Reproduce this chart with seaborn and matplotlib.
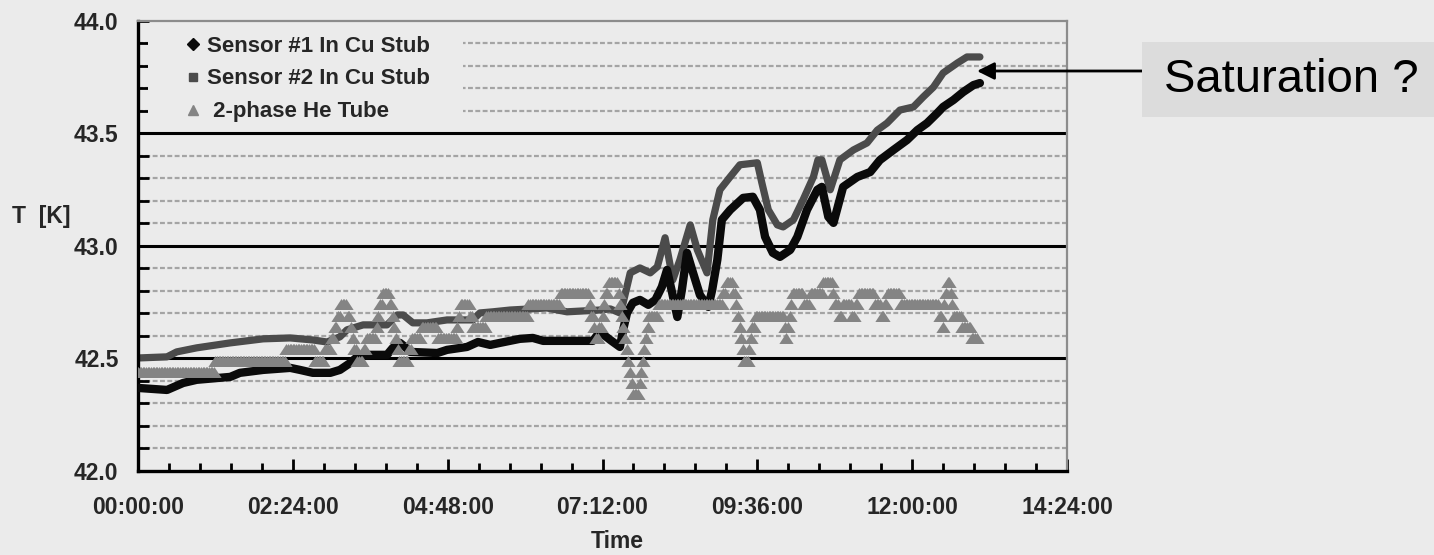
import numpy as np
import matplotlib
matplotlib.use("Agg")
import matplotlib.pyplot as plt
from matplotlib.ticker import MultipleLocator, FixedLocator, FixedFormatter
from matplotlib.lines import Line2D
from matplotlib.patches import Rectangle
import seaborn as sns

# ---- Sensor #1 in Cu stub (elapsed hours, temperature in K) ----
S1_HOURS = [0.00, 0.45, 0.70, 0.91, 1.43, 1.58, 1.94, 2.36, 2.51, 2.71, 2.98, 3.13,
            3.29, 3.40, 3.60, 3.86, 3.95, 4.06, 4.14, 4.22, 4.64, 4.79, 5.10, 5.27,
            5.46, 5.61, 5.92, 6.12, 6.28, 7.05, 7.16, 7.32, 7.47, 7.52, 7.58, 7.67,
            7.78, 7.91, 8.02, 8.12, 8.20, 8.28, 8.36, 8.43, 8.51, 8.59, 8.71, 8.84,
            8.90, 8.98, 9.05, 9.18, 9.38, 9.53, 9.64, 9.72, 9.84, 9.95, 10.11, 10.22,
            10.37, 10.53, 10.60, 10.70, 10.78, 10.93, 11.15, 11.35, 11.50, 11.71, 11.92,
            12.08, 12.23, 12.39, 12.48, 12.64, 12.79, 12.95, 13.05]
S1_TEMP = [42.369, 42.360, 42.391, 42.405, 42.418, 42.436, 42.449, 42.458, 42.449, 42.436,
           42.436, 42.449, 42.480, 42.507, 42.516, 42.516, 42.547, 42.569, 42.551, 42.529,
           42.524, 42.538, 42.551, 42.573, 42.560, 42.569, 42.587, 42.591, 42.578, 42.578,
           42.618, 42.582, 42.551, 42.627, 42.702, 42.747, 42.760, 42.738, 42.760, 42.818,
           42.893, 42.791, 42.684, 42.804, 42.969, 42.893, 42.782, 42.729, 42.804, 42.938,
           43.116, 43.160, 43.213, 43.218, 43.160, 43.040, 42.969, 42.951, 42.982, 43.040,
           43.160, 43.249, 43.262, 43.129, 43.102, 43.262, 43.306, 43.328, 43.381, 43.426,
           43.470, 43.514, 43.545, 43.590, 43.617, 43.648, 43.683, 43.714, 43.723]

# ---- Sensor #2 in Cu stub ----
S2_HOURS = [0.00, 0.45, 0.60, 0.91, 1.43, 1.94, 2.36, 2.71, 2.93, 3.13, 3.24, 3.49,
            3.86, 4.02, 4.11, 4.26, 4.48, 4.79, 5.19, 5.30, 5.50, 5.77, 6.34, 6.65,
            7.16, 7.32, 7.47, 7.52, 7.63, 7.78, 7.94, 8.05, 8.17, 8.29, 8.40, 8.56,
            8.67, 8.82, 8.91, 9.02, 9.18, 9.33, 9.60, 9.67, 9.77, 9.91, 10.00, 10.16,
            10.31, 10.47, 10.54, 10.60, 10.73, 10.88, 11.09, 11.30, 11.46, 11.61, 11.81,
            12.02, 12.17, 12.33, 12.48, 12.70, 12.85, 13.05]
S2_TEMP = [42.502, 42.507, 42.529, 42.547, 42.569, 42.587, 42.591, 42.582, 42.573, 42.596,
           42.627, 42.649, 42.649, 42.693, 42.693, 42.658, 42.658, 42.671, 42.671, 42.702,
           42.707, 42.715, 42.724, 42.707, 42.715, 42.720, 42.702, 42.747, 42.880, 42.902,
           42.880, 42.907, 43.036, 42.849, 42.938, 43.093, 42.982, 42.880, 43.116, 43.249,
           43.307, 43.360, 43.369, 43.280, 43.160, 43.093, 43.084, 43.116, 43.205, 43.307,
           43.382, 43.382, 43.249, 43.382, 43.426, 43.457, 43.514, 43.545, 43.603, 43.617,
           43.661, 43.705, 43.768, 43.812, 43.839, 43.839]

# ---- 2-phase He tube: logged levels and how many consecutive samples sit at each ----
HE_STEP_H = 0.025
HE_LEVELS = [42.44, 42.49, 42.54, 42.49, 42.54, 42.59, 42.64, 42.69, 42.74, 42.69,
             42.64, 42.59, 42.54, 42.49, 42.54, 42.59, 42.64, 42.69, 42.74, 42.79,
             42.74, 42.69, 42.64, 42.59, 42.54, 42.49, 42.54, 42.59, 42.64, 42.59,
             42.64, 42.69, 42.74, 42.69, 42.64, 42.69, 42.74, 42.79, 42.74, 42.69,
             42.64, 42.59, 42.64, 42.69, 42.74, 42.79, 42.84, 42.79, 42.74, 42.69,
             42.64, 42.59, 42.54, 42.49, 42.44, 42.39, 42.34, 42.39, 42.44, 42.49,
             42.54, 42.59, 42.64, 42.69, 42.74, 42.79, 42.84, 42.79, 42.74, 42.69,
             42.64, 42.59, 42.54, 42.49, 42.54, 42.59, 42.64, 42.69, 42.64, 42.59,
             42.64, 42.69, 42.74, 42.79, 42.74, 42.79, 42.84, 42.79, 42.74, 42.69,
             42.74, 42.69, 42.74, 42.79, 42.74, 42.69, 42.74, 42.79, 42.74, 42.69,
             42.64, 42.74, 42.79, 42.84, 42.79, 42.74, 42.69, 42.64, 42.59]
HE_COUNTS = [48, 44, 18, 6, 4, 2, 2, 2, 4, 2,
             1, 1, 2, 4, 2, 6, 1, 1, 2, 4,
             2, 1, 1, 1, 1, 6, 2, 6, 10, 12,
             1, 1, 6, 2, 8, 26, 20, 18, 1, 2,
             1, 2, 2, 1, 1, 2, 6, 1, 1, 1,
             1, 1, 1, 1, 1, 1, 4, 1, 1, 1,
             1, 1, 1, 6, 40, 2, 4, 2, 1, 1,
             1, 1, 1, 3, 1, 1, 2, 18, 1, 1,
             1, 1, 1, 7, 4, 8, 6, 1, 3, 2,
             6, 2, 2, 10, 4, 2, 2, 8, 24, 2,
             1, 1, 1, 2, 1, 1, 5, 6, 4]

SERIES_LABELS = ["Sensor #1 In Cu Stub", "Sensor #2 In Cu Stub", " 2-phase He Tube"]
Y_TICKS = [42.0, 42.5, 43.0, 43.5, 44.0]
X_TICKS = [0.0, 2.4, 4.8, 7.2, 9.6, 12.0, 14.4]
X_TICK_LABELS = ["00:00:00", "02:24:00", "04:48:00", "07:12:00", "09:36:00", "12:00:00", "14:24:00"]
Y_LABEL = "T  [K]"
X_LABEL = "Time"
NOTE = "Saturation ?"

BG = "#ebebeb"
C_S1 = "#0a0a0a"
C_S2 = "#4b4b4b"
C_HE = "#848484"

sns.set_theme(style="white")
plt.rcParams["font.family"] = ["Liberation Sans", "DejaVu Sans"]
plt.rcParams["font.weight"] = "bold"

he_temp = np.repeat(HE_LEVELS, HE_COUNTS)
he_hours = np.arange(len(he_temp)) * HE_STEP_H

# flat triangle, a little wider than tall
TRI = [(-0.65, -0.5), (0.65, -0.5), (0.0, 0.5), (-0.65, -0.5)]

W, H = 1434, 555
fig = plt.figure(figsize=(W / 100, H / 100), dpi=100, facecolor=BG)
ax = fig.add_axes([138 / W, 1 - 471 / H, (1067 - 138) / W, (471 - 20.7) / H])
ax.set_facecolor(BG)

# grid: dotted every 0.1 K, solid at the interior half-kelvin marks
ax.set_ylim(42.0, 44.0)
ax.set_xlim(0, 14.4)
ax.yaxis.set_major_locator(FixedLocator(Y_TICKS))
ax.yaxis.set_major_formatter(FixedFormatter([f"{v:.1f}" for v in Y_TICKS]))
ax.yaxis.set_minor_locator(MultipleLocator(0.1))
ax.xaxis.set_major_locator(FixedLocator(X_TICKS))
ax.xaxis.set_major_formatter(FixedFormatter(X_TICK_LABELS))
ax.xaxis.set_minor_locator(MultipleLocator(0.48))
ax.grid(False)
ax.grid(which="minor", axis="y", color="#a4a4a4", lw=1.6, ls=(0, (2.2, 1.1)), zorder=0)
for v in Y_TICKS[1:-1]:
    ax.axhline(v, color="black", lw=2.2, zorder=1)

sns.lineplot(x=S1_HOURS, y=S1_TEMP, ax=ax, color=C_S1, lw=6.0, sort=False,
             estimator=None, legend=False, zorder=3)
sns.lineplot(x=S2_HOURS, y=S2_TEMP, ax=ax, color=C_S2, lw=5.2, sort=False,
             estimator=None, legend=False, zorder=2)
sns.scatterplot(x=he_hours, y=he_temp, ax=ax, color=C_HE, marker=TRI, s=105,
                linewidth=0, legend=False, zorder=4)

for side in ("left", "bottom"):
    ax.spines[side].set_color("black")
    ax.spines[side].set_linewidth(2.4)
for side in ("top", "right"):
    ax.spines[side].set_color("#8c8c8c")
    ax.spines[side].set_linewidth(1.6)

ax.tick_params(axis="y", which="both", direction="in", color="black", width=2,
               left=True, right=False)
ax.tick_params(axis="y", which="major", length=8, pad=14, labelsize=16.5)
ax.tick_params(axis="y", which="minor", length=8)
ax.tick_params(axis="x", which="both", direction="in", color="black", width=2,
               bottom=True, top=False)
ax.tick_params(axis="x", which="major", length=9, pad=18, labelsize=16.5)
ax.tick_params(axis="x", which="minor", length=6)
for lab in ax.get_xticklabels() + ax.get_yticklabels():
    lab.set_fontweight("bold")
ax.set_xlabel("")
ax.set_ylabel("")

fig.text(41 / W, 1 - 216 / H, Y_LABEL, ha="center", va="center", fontsize=16.5,
         fontweight="bold")
fig.text(617 / W, 1 - 541 / H, X_LABEL, ha="center", va="center", fontsize=16.5,
         fontweight="bold")

# plain panel behind the legend entries
ax.add_patch(Rectangle(((148 - 138) / 929, (471 - 122) / 450.3), (463 - 148) / 929,
                       (122 - 24) / 450.3, transform=ax.transAxes, facecolor=BG,
                       edgecolor="none", zorder=5))

handles = [
    Line2D([], [], ls="none", marker="D", color=C_S1, markersize=6),
    Line2D([], [], ls="none", marker="s", color=C_S2, markersize=6),
    Line2D([], [], ls="none", marker="^", color=C_HE, markersize=7),
]
leg = ax.legend(handles, SERIES_LABELS, loc="upper left",
                bbox_to_anchor=((182 - 138) / 929, (471 - 35.5) / 450.3),
                frameon=False, prop={"size": 16, "weight": "bold"},
                handlelength=1.0, handletextpad=0.13, labelspacing=0.54,
                borderpad=0.0, borderaxespad=0.0)
leg.set_zorder(6)

# callout box with arrow pointing at the end of the traces
fig.patches.append(Rectangle((1142 / W, 1 - 117 / H), (W - 1142) / W, 75 / H,
                             transform=fig.transFigure, facecolor="#dcdcdc",
                             edgecolor="none", zorder=1))
fig.text(1164 / W, 1 - 80 / H, NOTE, ha="left", va="center", fontsize=34,
         fontweight="normal", color="black")
ax.annotate("", xy=(977 / W, 1 - 71 / H), xycoords="figure fraction",
            xytext=(1142 / W, 1 - 71 / H), textcoords="figure fraction",
            arrowprops=dict(arrowstyle="-|>", color="black", lw=2,
                            mutation_scale=26, shrinkA=0, shrinkB=0),
            annotation_clip=False)

fig.savefig("out.png", dpi=100, facecolor=BG)
